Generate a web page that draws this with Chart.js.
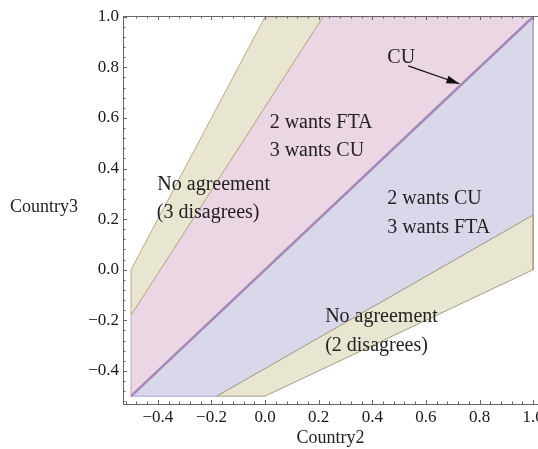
<!DOCTYPE html>
<html lang="en">
<head>
  <meta charset="UTF-8">
  <title>Country2 / Country3 agreement regions</title>
  <script src="https://cdn.jsdelivr.net/npm/chart.js"></script>
  <style>
    body {
      margin: 0;
      background: #fff;
      overflow: hidden;
    }
    #chart-container {
      width: 538px;
      height: 449px;
    }
  </style>
</head>
<body>
  <div id="chart-container">
    <canvas id="regionChart" width="538" height="449"></canvas>
  </div>

  <script>
    // tick labels
    const xTicks = [-0.4, -0.2, 0.0, 0.2, 0.4, 0.6, 0.8, 1.0];
    const yTicks = [-0.4, -0.2, 0.0, 0.2, 0.4, 0.6, 0.8, 1.0];

    // regions (polygon corners)
    const upperNoDealX = [-0.5, 0.0, 0.216, -0.5, -0.5];
    const upperNoDealY = [0.0, 1.0, 1.0, -0.18, 0.0];
    const wantsFtaX = [-0.5, 0.216, 1.0, -0.5, -0.5];
    const wantsFtaY = [-0.18, 1.0, 1.0, -0.5, -0.18];
    const wantsCuX = [-0.5, 1.0, 1.0, -0.18, -0.5];
    const wantsCuY = [-0.5, 1.0, 0.216, -0.5, -0.5];
    const lowerNoDealX = [-0.18, 1.0, 1.0, 0.0, -0.18];
    const lowerNoDealY = [-0.5, 0.216, 0.0, -0.5, -0.5];

    // CU line and its arrow
    const cuLineX = [-0.5, 1.0];
    const cuLineY = [-0.5, 1.0];
    const arrowX = [0.534, 0.725];
    const arrowY = [0.806, 0.735];

    // region labels (left x, baseline y)
    const labelText = ['CU', '2 wants FTA', '3 wants CU', 'No agreement', '(3 disagrees)',
                       '2 wants CU', '3 wants FTA', 'No agreement', '(2 disagrees)'];
    const labelX = [0.456, 0.017, 0.017, -0.402, -0.404, 0.456, 0.456, 0.224, 0.224];
    const labelY = [0.819, 0.559, 0.449, 0.315, 0.204, 0.259, 0.147, -0.205, -0.323];

    const pts = (xs, ys) => xs.map((x, i) => ({ x: x, y: ys[i] }));
    const fmt = v => v.toFixed(1).replace('-', '\u2212');
    const serif = "'Liberation Serif', 'DejaVu Serif', serif";

    function minorTicks(major) {
      const out = [];
      const step = 0.04;
      for (let v = major[0] - 3 * step; v < major[major.length - 1] + 0.001; v += step) {
        const r = Math.round(v * 100) / 100;
        if (!major.some(m => Math.abs(m - r) < 1e-6)) out.push(r);
      }
      return out;
    }

    const decorations = {
      id: 'decorations',
      afterDatasetsDraw(chart) {
        const { ctx, chartArea, scales: { x, y } } = chart;
        ctx.save();

        // inward frame ticks + top frame line
        ctx.strokeStyle = '#666';
        ctx.lineWidth = 1;
        ctx.beginPath();
        ctx.moveTo(chartArea.left, chartArea.top + 0.5);
        ctx.lineTo(chartArea.right, chartArea.top + 0.5);
        const tickSet = (vals, len) => {
          vals.forEach(v => {
            const px = Math.round(x.getPixelForValue(v)) + 0.5;
            ctx.moveTo(px, chartArea.bottom);
            ctx.lineTo(px, chartArea.bottom - len);
            ctx.moveTo(px, chartArea.top);
            ctx.lineTo(px, chartArea.top + len);
          });
        };
        tickSet(xTicks, 4);
        tickSet(minorTicks(xTicks).filter(v => v > -0.53), 2.5);
        const ytickSet = (vals, len) => {
          vals.forEach(v => {
            const py = Math.round(y.getPixelForValue(v)) + 0.5;
            ctx.moveTo(chartArea.left, py);
            ctx.lineTo(chartArea.left + len, py);
          });
        };
        ytickSet(yTicks, 4);
        ytickSet(minorTicks(yTicks).filter(v => v > -0.53), 2.5);
        ctx.stroke();

        // arrow head
        const x0 = x.getPixelForValue(arrowX[0]), y0 = y.getPixelForValue(arrowY[0]);
        const x1 = x.getPixelForValue(arrowX[1]), y1 = y.getPixelForValue(arrowY[1]);
        const a = Math.atan2(y1 - y0, x1 - x0);
        ctx.fillStyle = '#111';
        ctx.beginPath();
        ctx.moveTo(x1, y1);
        ctx.lineTo(x1 - 13 * Math.cos(a) + 4 * Math.sin(a), y1 - 13 * Math.sin(a) - 4 * Math.cos(a));
        ctx.lineTo(x1 - 13 * Math.cos(a) - 4 * Math.sin(a), y1 - 13 * Math.sin(a) + 4 * Math.cos(a));
        ctx.closePath();
        ctx.fill();

        // region labels
        ctx.fillStyle = '#222';
        ctx.font = '20px ' + serif;
        ctx.textAlign = 'left';
        ctx.textBaseline = 'alphabetic';
        labelText.forEach((t, i) => {
          ctx.fillText(t, x.getPixelForValue(labelX[i]), y.getPixelForValue(labelY[i]));
        });

        // horizontal y axis title
        ctx.font = '18px ' + serif;
        ctx.textBaseline = 'middle';
        ctx.fillText('Country3', 10, 207);
        ctx.restore();
      }
    };

    const tan = { fill: '#e8e5d0', line: '#bba986' };
    const pink = { fill: '#ebd6e3', line: '#cfa2bf' };
    const blue = { fill: '#d9d8eb', line: '#aaa5cc' };

    const ctx = document.getElementById('regionChart').getContext('2d');
    new Chart(ctx, {
      type: 'scatter',
      data: {
        datasets: [
          { label: 'CU', data: pts(cuLineX, cuLineY), showLine: true, borderColor: '#a487b6', borderWidth: 2.5, pointRadius: 0, fill: false },
          { label: 'arrow', data: pts(arrowX, arrowY), showLine: true, borderColor: '#111', borderWidth: 1.2, pointRadius: 0, fill: false },
          { label: 'No agreement (3 disagrees)', data: pts(upperNoDealX, upperNoDealY), showLine: true, borderColor: tan.line, backgroundColor: tan.fill, borderWidth: 1, pointRadius: 0, fill: 'shape' },
          { label: 'No agreement (2 disagrees)', data: pts(lowerNoDealX, lowerNoDealY), showLine: true, borderColor: '#a39f84', backgroundColor: tan.fill, borderWidth: 1, pointRadius: 0, fill: 'shape' },
          { label: '2 wants FTA, 3 wants CU', data: pts(wantsFtaX, wantsFtaY), showLine: true, borderColor: pink.line, backgroundColor: pink.fill, borderWidth: 1, pointRadius: 0, fill: 'shape' },
          { label: '2 wants CU, 3 wants FTA', data: pts(wantsCuX, wantsCuY), showLine: true, borderColor: blue.line, backgroundColor: blue.fill, borderWidth: 1, pointRadius: 0, fill: 'shape' }
        ]
      },
      options: {
        responsive: false,
        animation: false,
        devicePixelRatio: 1,
        layout: { padding: { top: 16, left: 0, right: 0, bottom: 0 } },
        plugins: {
          legend: { display: false },
          tooltip: { enabled: false }
        },
        scales: {
          x: {
            type: 'linear',
            min: -0.53,
            max: 1.018,
            grid: { display: false, drawTicks: false },
            border: { display: true, color: '#666', width: 1 },
            afterBuildTicks: s => { s.ticks = xTicks.map(v => ({ value: v })); },
            afterFit: s => { s.height = 45; s.paddingLeft = 0; s.paddingRight = 0; },
            ticks: {
              padding: 3,
              autoSkip: false,
              maxRotation: 0,
              color: '#1a1a1a',
              font: { family: serif, size: 17 },
              callback: v => fmt(v)
            },
            title: {
              display: true,
              text: 'Country2',
              color: '#222',
              font: { family: serif, size: 18 },
              padding: { top: 0, bottom: 0 }
            }
          },
          y: {
            type: 'linear',
            min: -0.531,
            max: 1.003,
            grid: { display: false, drawTicks: false },
            border: { display: true, color: '#666', width: 1 },
            afterBuildTicks: s => { s.ticks = yTicks.map(v => ({ value: v })); },
            afterFit: s => { s.width = 123; s.paddingTop = 0; s.paddingBottom = 0; },
            ticks: {
              padding: 4,
              autoSkip: false,
              color: '#1a1a1a',
              font: { family: serif, size: 17 },
              callback: v => fmt(v)
            }
          }
        }
      },
      plugins: [decorations]
    });
  </script>
</body>
</html>
